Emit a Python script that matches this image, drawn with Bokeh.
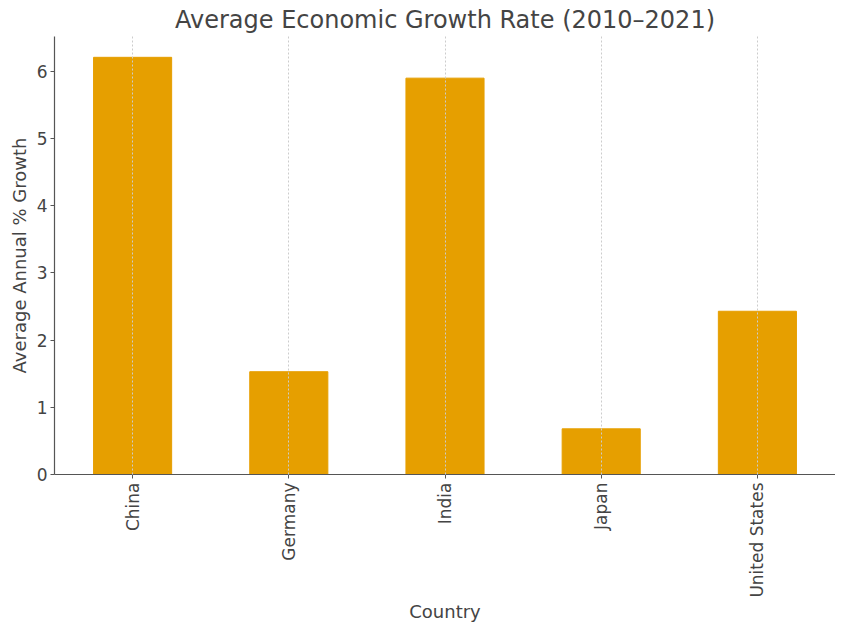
from bokeh.plotting import figure
from bokeh.embed import file_html
from bokeh.resources import INLINE
from bokeh.models import Range1d, FactorRange

countries = ["China", "Germany", "India", "Japan", "United States"]
growth = [6.21, 1.53, 5.90, 0.68, 2.43]

FONT = "DejaVu Sans"
TXT = "#444444"

p = figure(x_range=FactorRange(*countries, range_padding=0), y_range=Range1d(0, 6.52),
           width=835, height=624, output_backend="svg", toolbar_location=None,
           title="Average Economic Growth Rate (2010\u20132021)",
           min_border_left=54, min_border_right=0, min_border_top=26, min_border_bottom=0)

p.vbar(x=countries, top=growth, width=0.5, color="#E69F00", line_color="#E69F00")

p.title.align = "center"
p.title.text_font = FONT
p.title.text_font_size = "24px"
p.title.text_font_style = "normal"
p.title.text_color = TXT
p.title.standoff = 6

p.outline_line_color = None
p.ygrid.grid_line_color = None
p.xgrid.grid_line_color = "#cccccc"
p.xgrid.grid_line_dash = "2 2"
p.xgrid.grid_line_width = 1
p.xgrid.level = "overlay"

for ax in (p.xaxis, p.yaxis):
    ax.axis_line_color = "#555555"
    ax.axis_line_width = 1.2
    ax.major_tick_line_color = "#555555"
    ax.major_tick_out = 4
    ax.major_tick_in = 0
    ax.minor_tick_line_color = None
    ax.major_label_text_font = FONT
    ax.major_label_text_font_size = "17px"
    ax.major_label_text_color = TXT
    ax.axis_label_text_font = FONT
    ax.axis_label_text_font_size = "18px"
    ax.axis_label_text_font_style = "normal"
    ax.axis_label_text_color = TXT

p.xaxis.axis_label = "Country"
p.yaxis.axis_label = "Average Annual % Growth"
p.xaxis.major_label_orientation = 1.5708
p.xaxis.major_label_standoff = 4
p.xaxis.axis_label_standoff = 0
p.yaxis.major_label_standoff = 3
p.yaxis.axis_label_standoff = 4
p.yaxis.ticker = [0, 1, 2, 3, 4, 5, 6]

open("out.html", "w").write(file_html(p, INLINE))
